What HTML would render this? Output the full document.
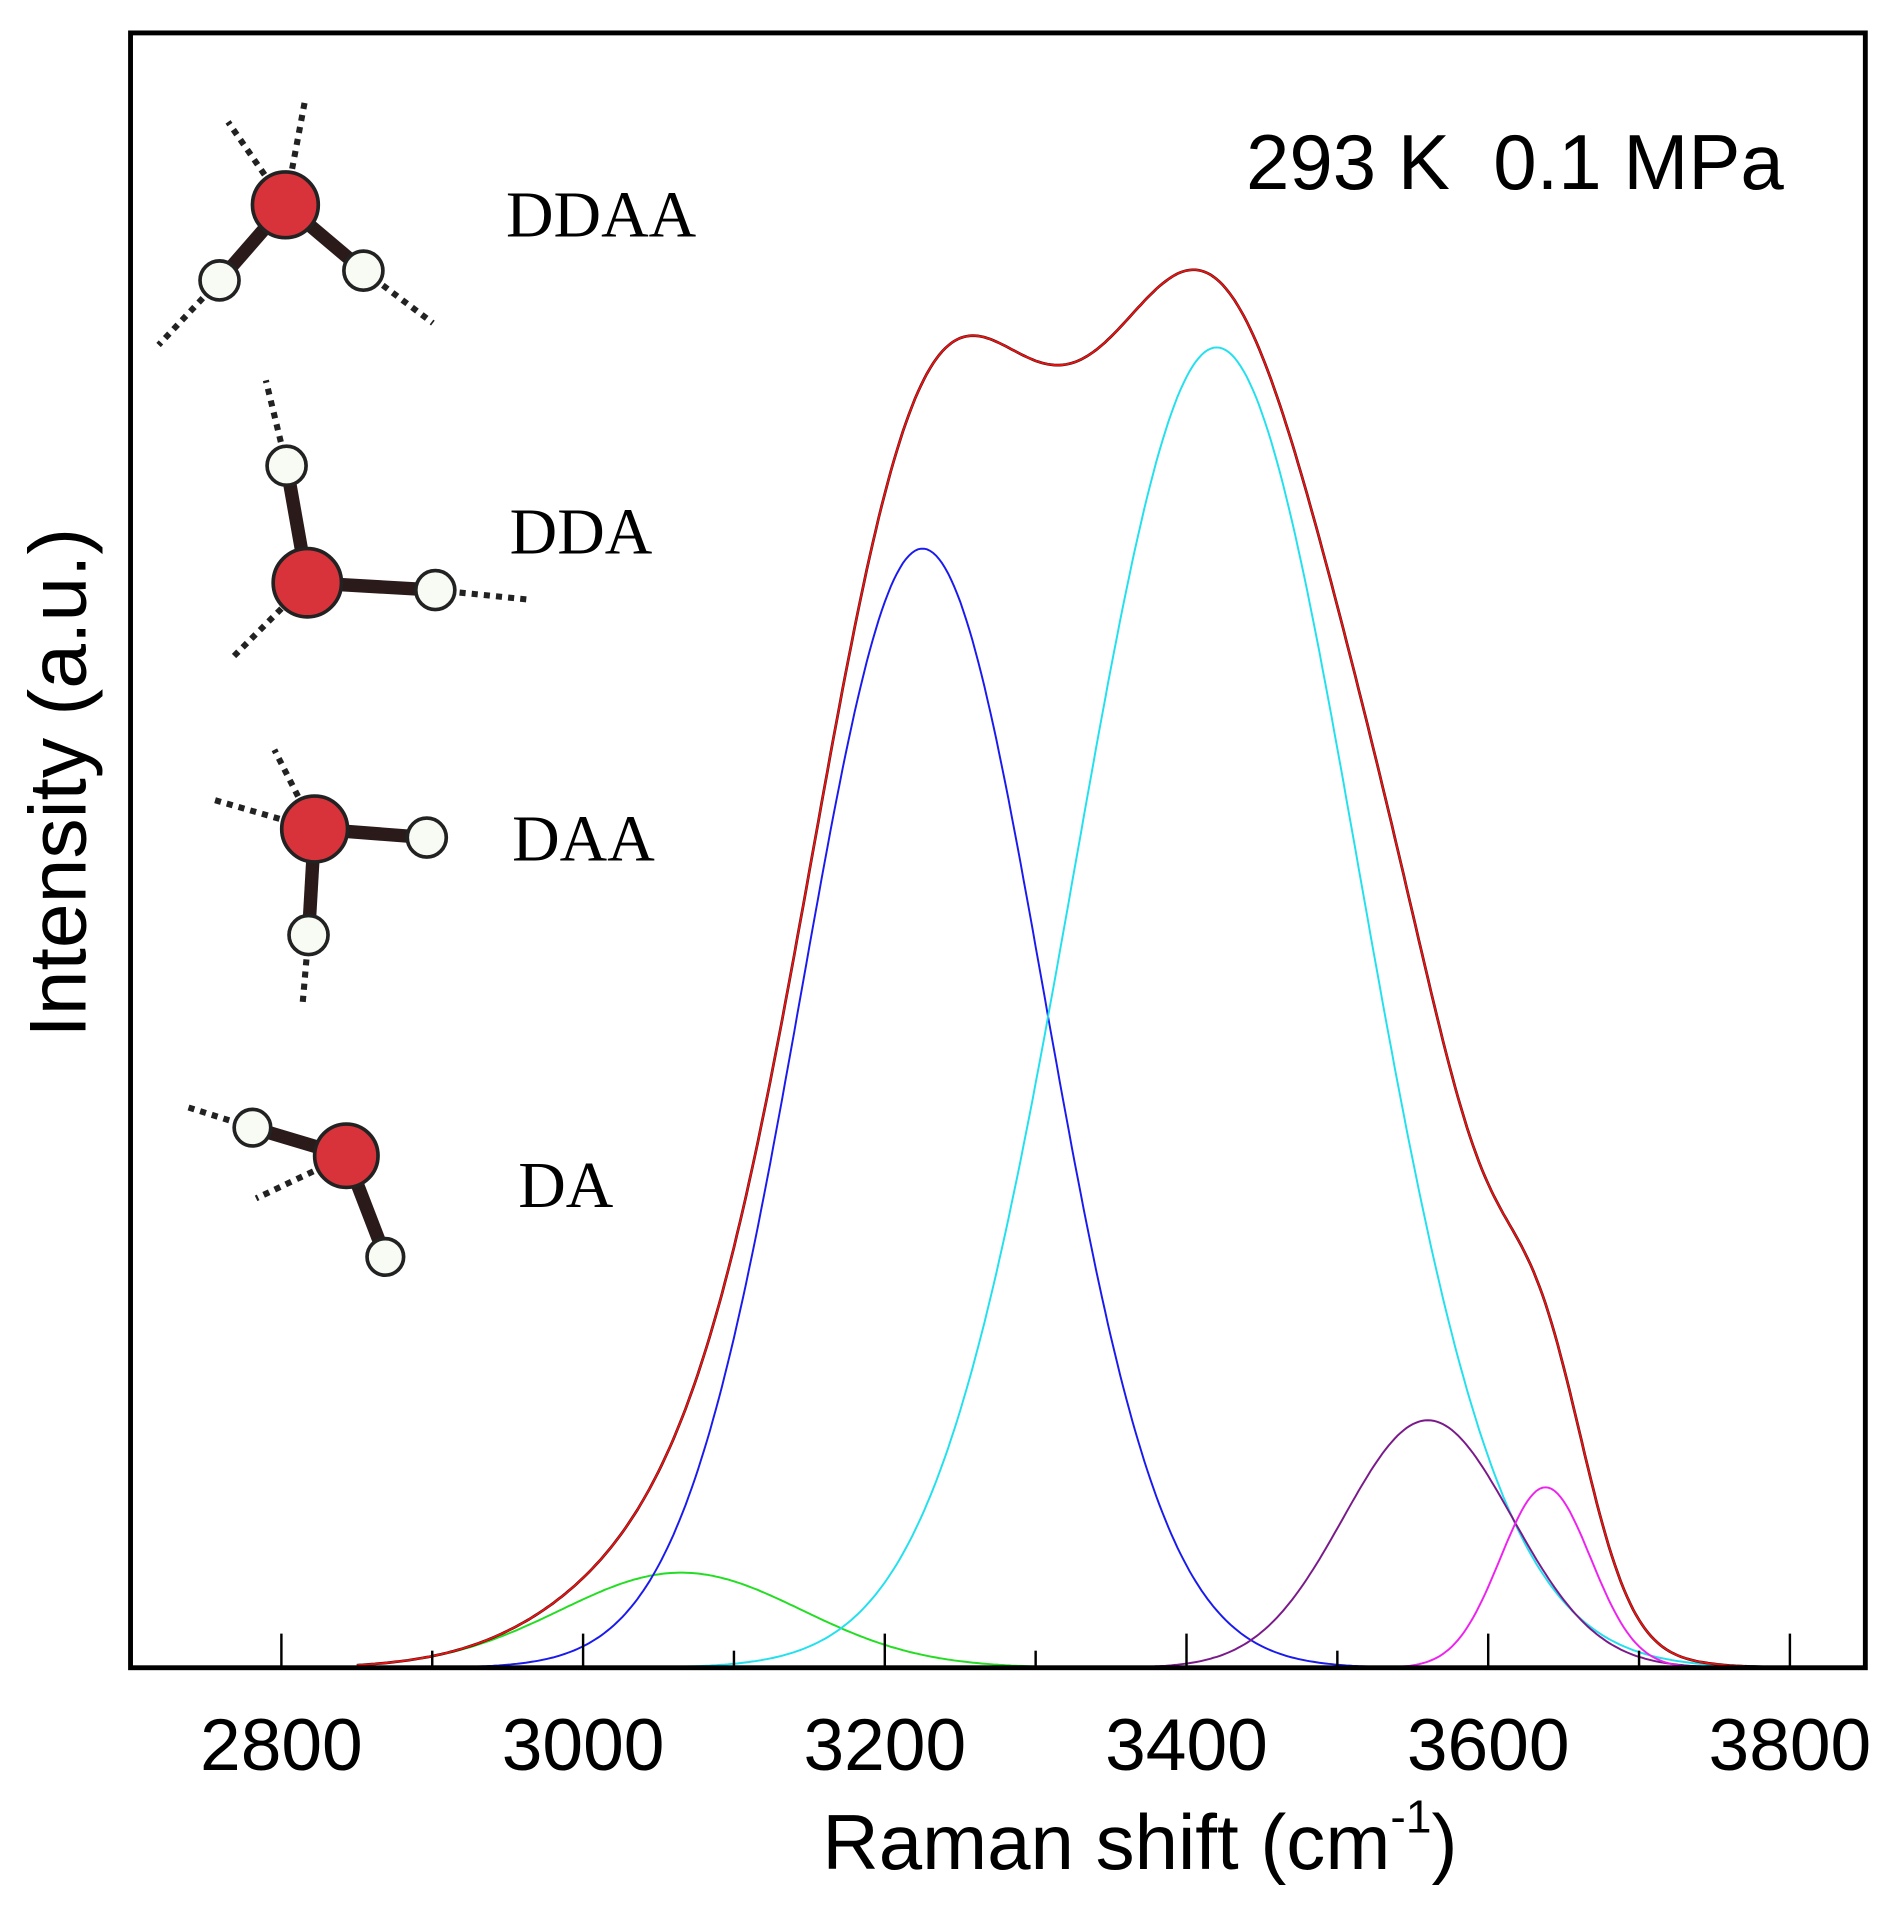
<!DOCTYPE html>
<html><head><meta charset="utf-8"><style>
html,body{margin:0;padding:0;background:#fff;}
svg{display:block;}
</style></head><body>
<svg id="chart" width="1902" height="1914" viewBox="0 0 1560 1570" xmlns="http://www.w3.org/2000/svg">
<g id="molecules" stroke-linecap="butt">
 <g>
  <line x1="234" y1="168" x2="187" y2="100" stroke="#222" stroke-width="5" stroke-dasharray="5,5"/>
  <line x1="234" y1="168" x2="250" y2="83" stroke="#222" stroke-width="5" stroke-dasharray="5,5"/>
  <line x1="180" y1="230" x2="130" y2="283" stroke="#222" stroke-width="5" stroke-dasharray="5,5"/>
  <line x1="298" y1="222" x2="355" y2="265" stroke="#222" stroke-width="5" stroke-dasharray="5,5"/>
  <line x1="234" y1="168" x2="180" y2="230" stroke="#2a1a1a" stroke-width="11"/>
  <line x1="234" y1="168" x2="298" y2="222" stroke="#2a1a1a" stroke-width="11"/>
  <circle cx="234" cy="168" r="27" fill="#d8333a" stroke="#222" stroke-width="3"/>
  <circle cx="180" cy="230" r="16" fill="#f8faf4" stroke="#222" stroke-width="3"/>
  <circle cx="298" cy="222" r="16" fill="#f8faf4" stroke="#222" stroke-width="3"/>
 </g>
 <g>
  <line x1="235" y1="382" x2="218" y2="312" stroke="#222" stroke-width="5" stroke-dasharray="5,5"/>
  <line x1="357" y1="484" x2="435" y2="492" stroke="#222" stroke-width="5" stroke-dasharray="5,5"/>
  <line x1="252" y1="478" x2="190" y2="540" stroke="#222" stroke-width="5" stroke-dasharray="5,5"/>
  <line x1="252" y1="478" x2="235" y2="382" stroke="#2a1a1a" stroke-width="11"/>
  <line x1="252" y1="478" x2="357" y2="484" stroke="#2a1a1a" stroke-width="11"/>
  <circle cx="252" cy="478" r="28" fill="#d8333a" stroke="#222" stroke-width="3"/>
  <circle cx="235" cy="382" r="16" fill="#f8faf4" stroke="#222" stroke-width="3"/>
  <circle cx="357" cy="484" r="16" fill="#f8faf4" stroke="#222" stroke-width="3"/>
 </g>
 <g>
  <line x1="258" y1="680" x2="225" y2="615" stroke="#222" stroke-width="5" stroke-dasharray="5,5"/>
  <line x1="258" y1="680" x2="175" y2="656" stroke="#222" stroke-width="5" stroke-dasharray="5,5"/>
  <line x1="253" y1="767" x2="248" y2="825" stroke="#222" stroke-width="5" stroke-dasharray="5,5"/>
  <line x1="258" y1="680" x2="350" y2="687" stroke="#2a1a1a" stroke-width="11"/>
  <line x1="258" y1="680" x2="253" y2="767" stroke="#2a1a1a" stroke-width="11"/>
  <circle cx="258" cy="680" r="27" fill="#d8333a" stroke="#222" stroke-width="3"/>
  <circle cx="350" cy="687" r="16" fill="#f8faf4" stroke="#222" stroke-width="3"/>
  <circle cx="253" cy="767" r="16" fill="#f8faf4" stroke="#222" stroke-width="3"/>
 </g>
 <g>
  <line x1="207" y1="925" x2="150" y2="907" stroke="#222" stroke-width="5" stroke-dasharray="5,5"/>
  <line x1="284" y1="948" x2="210" y2="983" stroke="#222" stroke-width="5" stroke-dasharray="5,5"/>
  <line x1="284" y1="948" x2="207" y2="925" stroke="#2a1a1a" stroke-width="11"/>
  <line x1="284" y1="948" x2="316" y2="1031" stroke="#2a1a1a" stroke-width="11"/>
  <circle cx="284" cy="948" r="26" fill="#d8333a" stroke="#222" stroke-width="3"/>
  <circle cx="207" cy="925" r="15" fill="#f8faf4" stroke="#222" stroke-width="3"/>
  <circle cx="316" cy="1031" r="15" fill="#f8faf4" stroke="#222" stroke-width="3"/>
 </g>
</g>
<g font-family="'Liberation Serif', serif" font-size="54" fill="#000">
 <text x="415" y="194">DDAA</text>
 <text x="418" y="454">DDA</text>
 <text x="420" y="706">DAA</text>
 <text x="425" y="990">DA</text>
</g>
<text x="1022" y="155" xml:space="preserve" font-family="'Liberation Sans', sans-serif" font-size="64">293 K  0.1 MPa</text>
<g id="series"></g>
<g id="axes"></g>
<rect x="107" y="27" width="1423" height="1341" fill="none" stroke="#000" stroke-width="4"/>
<text x="935" y="1533" text-anchor="middle" font-family="'Liberation Sans', sans-serif" font-size="64">Raman shift (cm<tspan font-size="38" dy="-30">-1</tspan><tspan dy="30">)</tspan></text>
<text transform="translate(70,642) rotate(-90)" text-anchor="middle" font-family="'Liberation Sans', sans-serif" font-size="66">Intensity (a.u.)</text>
</svg>
<script>
const xTicks = [2800, 3000, 3200, 3400, 3600, 3800];
const xMinorTicks = [2900, 3100, 3300, 3500, 3700];
const seriesNames = ['green', 'blue', 'cyan', 'purple', 'magenta'];
const peakCenters = [3065, 3225, 3420, 3560, 3638];
const peakHeights = [78, 918, 1083, 203, 148];
const peakWidths = [80, 80, 94, 56, 30];
const seriesColors = ['#22dd22', '#1a1aee', '#22e0ee', '#7a1a8a', '#ee22ee'];

const X0 = 2700, X1 = 3850, PL = 107, PR = 1530, PB = 1368;
const xs = v => PL + (v - X0) / (X1 - X0) * (PR - PL);
const ys = v => PB - v;
const NS = 'http://www.w3.org/2000/svg';
const sg = document.getElementById('series');
const ag = document.getElementById('axes');
function gauss(i, x) { const d = x - peakCenters[i]; return peakHeights[i] * Math.exp(-d * d / (2 * peakWidths[i] * peakWidths[i])); }
function pathFor(f) {
  let d = '';
  for (let x = 2850; x <= 3800; x += 2) d += (d ? 'L' : 'M') + xs(x).toFixed(1) + ',' + ys(f(x)).toFixed(1);
  return d;
}
seriesNames.forEach((n, i) => {
  const p = document.createElementNS(NS, 'path');
  p.setAttribute('d', pathFor(x => gauss(i, x)));
  p.setAttribute('fill', 'none');
  p.setAttribute('stroke', seriesColors[i]);
  p.setAttribute('stroke-width', '1.6');
  
  
  sg.appendChild(p);
});
const total = x => seriesNames.reduce((s, n, i) => s + gauss(i, x), 0);
const pb = document.createElementNS(NS, 'path');
pb.setAttribute('d', pathFor(total));
pb.setAttribute('fill', 'none');
pb.setAttribute('stroke', '#000');
pb.setAttribute('stroke-width', '2.2');


sg.appendChild(pb);
const pr = document.createElementNS(NS, 'path');
pr.setAttribute('d', pathFor(total));
pr.setAttribute('fill', 'none');
pr.setAttribute('stroke', '#ee1111');
pr.setAttribute('stroke-width', '1.6');


sg.appendChild(pr);
xTicks.forEach(t => {
  const l = document.createElementNS(NS, 'line');
  l.setAttribute('x1', xs(t)); l.setAttribute('x2', xs(t));
  l.setAttribute('y1', PB); l.setAttribute('y2', PB - 28);
  l.setAttribute('stroke', '#000'); l.setAttribute('stroke-width', '2');
  
  
  ag.appendChild(l);
  const tx = document.createElementNS(NS, 'text');
  tx.setAttribute('x', xs(t)); tx.setAttribute('y', 1452);
  tx.setAttribute('text-anchor', 'middle');
  tx.setAttribute('font-family', "'Liberation Sans', sans-serif");
  tx.setAttribute('font-size', '60');
  tx.textContent = t;
  
  
  ag.appendChild(tx);
});
xMinorTicks.forEach(t => {
  const l = document.createElementNS(NS, 'line');
  l.setAttribute('x1', xs(t)); l.setAttribute('x2', xs(t));
  l.setAttribute('y1', PB); l.setAttribute('y2', PB - 14);
  l.setAttribute('stroke', '#000'); l.setAttribute('stroke-width', '2');
  
  
  ag.appendChild(l);
});
</script>
</body></html>
